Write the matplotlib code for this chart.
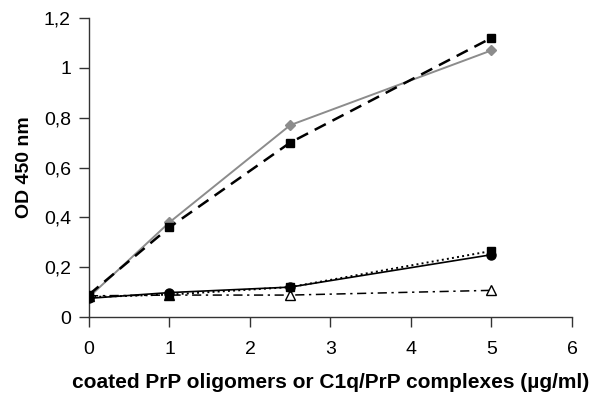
import matplotlib.pyplot as plt

# concentraciones (µg/ml)
conc = [0, 1, 2.5, 5]

# valores OD 450 nm por serie
gray_diamond = [0.08, 0.38, 0.77, 1.07]
black_square_dashed = [0.09, 0.36, 0.70, 1.12]
black_square_dotted = [0.08, 0.09, 0.12, 0.265]
black_circle = [0.075, 0.098, 0.12, 0.25]
open_triangle = [0.085, 0.088, 0.088, 0.107]

plt.rcParams['font.family'] = ['Liberation Sans', 'DejaVu Sans']

fig = plt.figure(figsize=(5.92, 3.99), dpi=100)
ax = fig.add_axes([0.1503, 0.2055, 0.8159, 0.7494])

ax.plot(conc, open_triangle, color='black', linestyle=(0, (6, 3, 1.5, 3)), linewidth=1.1,
        marker='^', markersize=7, markerfacecolor='white', markeredgecolor='black', zorder=2)
ax.plot(conc, black_square_dotted, color='black', linestyle=':', linewidth=1.4,
        marker='s', markersize=6, markerfacecolor='black', zorder=3)
ax.plot(conc, black_circle, color='black', linestyle='-', linewidth=1.2,
        marker='o', markersize=6.5, markerfacecolor='black', zorder=4)
ax.plot(conc, gray_diamond, color='#8c8c8c', linestyle='-', linewidth=1.4,
        marker='D', markersize=5.5, markerfacecolor='#8c8c8c', markeredgecolor='#8c8c8c', zorder=3)
ax.plot(conc, black_square_dashed, color='black', linestyle=(0, (5, 3)), linewidth=1.8,
        marker='s', markersize=6, markerfacecolor='black', zorder=4)

ax.set_xlim(0, 6)
ax.set_ylim(0, 1.2)
ax.set_xticks([0, 1, 2, 3, 4, 5, 6])
ax.set_yticks([0, 0.2, 0.4, 0.6, 0.8, 1.0, 1.2])
ax.set_yticklabels(['0', '0,2', '0,4', '0,6', '0,8', '1', '1,2'])

for s in ['top', 'right']:
    ax.spines[s].set_visible(False)
for s in ['left', 'bottom']:
    ax.spines[s].set_color('#333333')
    ax.spines[s].set_linewidth(1.0)

ax.tick_params(axis='both', direction='out', length=7, width=1.0, color='#333333',
               labelsize=14)
ax.tick_params(axis='x', pad=10)
ax.tick_params(axis='y', pad=6)
ax.set_ylabel('OD 450 nm', fontsize=14, fontweight='bold', labelpad=8)
ax.set_xlabel('coated PrP oligomers or C1q/PrP complexes (µg/ml)', fontsize=15,
              fontweight='bold', labelpad=11)

fig.savefig('out.png', dpi=100)
